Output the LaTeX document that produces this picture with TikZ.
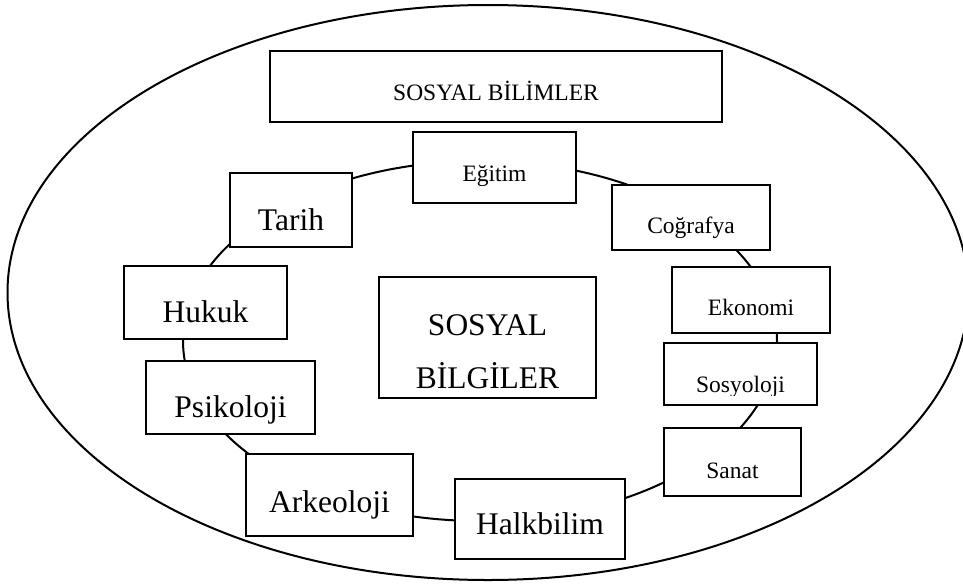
\documentclass[tikz,border=0pt]{standalone}
\usepackage{fontspec}
\setmainfont{Liberation Serif}
\tikzset{
  box/.style={draw, line width=1.1pt, fill=white, inner sep=0pt},
  smalltxt/.style={font=\fontsize{23.5}{28}\selectfont, anchor=base, inner sep=0pt},
  bigtxt/.style={font=\fontsize{31.5}{36}\selectfont, anchor=base, inner sep=0pt},
  ring/.style={draw, line width=2pt},
}
\newcommand\mybox[5]{\node[box, minimum width={#4pt-#2pt}, minimum height={#5pt-#3pt}] (#1) at ({(#2+#4)/2},{(#3+#5)/2}) {};}
\begin{document}
\begin{tikzpicture}[x=1pt,y=-1pt]
\useasboundingbox (0,0) rectangle (963,584);
\clip (0,0) rectangle (963,584);
% outer ellipse
\draw[ring] (488,292.5) ellipse [x radius=480.5, y radius=287.5];
% inner ring
\draw[ring] (480,341) ellipse [x radius=297, y radius=180];
% boxes
\mybox{bilimler}{270}{51}{722}{122}
\mybox{egitim}{413}{132}{576}{203}
\mybox{cografya}{612}{185}{770}{250}
\mybox{ekonomi}{672}{267}{830}{333}
\mybox{sosyoloji}{664}{343}{817}{405}
\mybox{sanat}{664}{428}{801}{496}
\mybox{halkbilim}{455}{479}{625}{559}
\mybox{arkeoloji}{246}{454}{413}{536}
\mybox{psikoloji}{146}{361}{315}{434}
\mybox{hukuk}{124}{266}{287}{339}
\mybox{tarih}{230}{173}{352}{247}
\mybox{bilgiler}{379}{277}{596}{398}
% texts
\node[smalltxt] (tbilimler) at (496,100) {SOSYAL BİLİMLER};
\node[smalltxt] (tegitim) at (494.5,181) {Eğitim};
\node[smalltxt] (tcografya) at (691,233) {Coğrafya};
\node[smalltxt] (tekonomi) at (751,315) {Ekonomi};
\begin{scope}
\clip (664,343) rectangle (817,395);
\node[smalltxt] (tsosyoloji) at (740.5,392) {Sosyoloji};
\end{scope}
\node[smalltxt] (tsanat) at (732.5,478) {Sanat};
\node[bigtxt] (thalkbilim) at (540,534) {Halkbilim};
\node[bigtxt] (tarkeoloji) at (329.5,512) {Arkeoloji};
\node[bigtxt] (tpsikoloji) at (230.5,417) {Psikoloji};
\node[bigtxt] (thukuk) at (205.5,322) {Hukuk};
\node[bigtxt] (ttarih) at (291,230) {Tarih};
\node[bigtxt] (tsosyal) at (487.5,335) {SOSYAL};
\node[bigtxt] (tbilgiler) at (487.5,388) {BİLGİLER};
\end{tikzpicture}
\end{document}
